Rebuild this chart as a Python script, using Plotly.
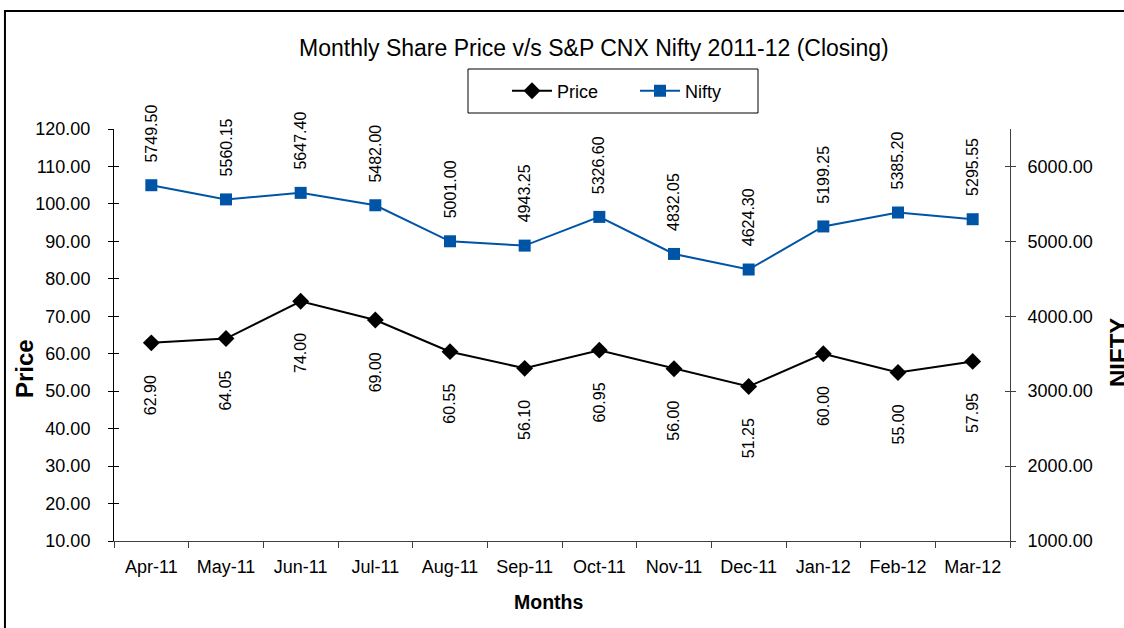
import plotly.graph_objects as go

months = ["Apr-11", "May-11", "Jun-11", "Jul-11", "Aug-11", "Sep-11",
          "Oct-11", "Nov-11", "Dec-11", "Jan-12", "Feb-12", "Mar-12"]
price = [62.90, 64.05, 74.00, 69.00, 60.55, 56.10, 60.95, 56.00, 51.25, 60.00, 55.00, 57.95]
nifty = [5749.50, 5560.15, 5647.40, 5482.00, 5001.00, 4943.25, 5326.60, 4832.05,
         4624.30, 5199.25, 5385.20, 5295.55]
price_ticks = list(range(10, 121, 10))
nifty_ticks = list(range(1000, 6001, 1000))

FONT = "Arial, Liberation Sans, sans-serif"
BLUE = "#0054A6"

fig = go.Figure()
fig.add_trace(go.Scatter(
    x=months, y=price, name="Price", mode="lines+markers",
    line=dict(color="black", width=2),
    marker=dict(symbol="diamond", size=13, color="black"),
    yaxis="y"))
fig.add_trace(go.Scatter(
    x=months, y=nifty, name="Nifty", mode="lines+markers",
    line=dict(color=BLUE, width=2),
    marker=dict(symbol="square", size=12, color=BLUE),
    yaxis="y2"))
# invisible helper traces so the inner tick axes get drawn
fig.add_trace(go.Scatter(x=[months[0]], y=[price_ticks[0]], yaxis="y3", mode="markers",
                         marker=dict(opacity=0), showlegend=False, hoverinfo="skip"))
fig.add_trace(go.Scatter(x=[months[0]], y=[nifty_ticks[0]], yaxis="y4", mode="markers",
                         marker=dict(opacity=0), showlegend=False, hoverinfo="skip"))

annotations = []
for m, v in zip(months, nifty):
    annotations.append(dict(x=m, y=v, xref="x", yref="y2", text=f"{v:.2f}",
                            textangle=-90, showarrow=False, yanchor="bottom",
                            yshift=21, font=dict(size=16, color="black", family=FONT)))
for m, v in zip(months, price):
    annotations.append(dict(x=m, y=v, xref="x", yref="y", text=f"{v:.2f}",
                            textangle=-90, showarrow=False, yanchor="top",
                            yshift=-30, font=dict(size=16, color="black", family=FONT)))

# title and axis titles
annotations.append(dict(x=0.5357, y=1.1966, xref="paper", yref="paper",
                        text="Monthly Share Price v/s S&P CNX Nifty 2011-12 (Closing)",
                        showarrow=False, xanchor="center", yanchor="middle",
                        font=dict(size=23, color="black", family=FONT)))
annotations.append(dict(x=-0.0993, y=0.4175, xref="paper", yref="paper",
                        text="<b>Price</b>", textangle=-90, showarrow=False,
                        xanchor="center", yanchor="middle",
                        font=dict(size=24, color="black", family=FONT)))
annotations.append(dict(x=1.1205, y=0.4587, xref="paper", yref="paper",
                        text="<b>NIFTY</b>", textangle=-90, showarrow=False,
                        xanchor="center", yanchor="middle",
                        font=dict(size=24, color="black", family=FONT)))
annotations.append(dict(x=0.485, y=-0.148, xref="paper", yref="paper",
                        text="<b>Months</b>", showarrow=False,
                        xanchor="center", yanchor="middle",
                        font=dict(size=19.5, color="black", family=FONT)))

fig.update_layout(
    width=1124, height=628,
    margin=dict(l=114, r=114, t=129, b=87),
    paper_bgcolor="white", plot_bgcolor="white",
    font=dict(family=FONT, color="black"),
    showlegend=True,
    legend=dict(orientation="h", x=(507 - 114) / 896, y=(541 - 91) / 412,
                xanchor="left", yanchor="middle",
                borderwidth=0, bgcolor="rgba(0,0,0,0)",
                font=dict(size=18, color="black", family=FONT),
                itemwidth=40, entrywidth=73, traceorder="normal"),
    xaxis=dict(type="category", range=[-0.5, 11.5], tickson="boundaries",
               ticks="outside", ticklen=6, tickcolor="#404040", showline=True,
               linecolor="#404040", linewidth=1, showgrid=False, zeroline=False,
               ticklabelstandoff=9,
               tickfont=dict(size=18, color="black", family=FONT)),
    yaxis=dict(range=[10, 120], tickvals=price_ticks, tickformat=".2f",
               ticks="outside", ticklen=5, tickcolor="black", showline=True,
               linecolor="black", linewidth=1, showgrid=False, zeroline=False,
               ticklabelstandoff=14,
               tickfont=dict(size=18, color="black", family=FONT)),
    yaxis2=dict(range=[1000, 6500], tickvals=nifty_ticks, tickformat=".2f",
                overlaying="y", side="right",
                ticks="outside", ticklen=5, tickcolor="#404040", showline=True,
                linecolor="#404040", linewidth=1, showgrid=False, zeroline=False,
                ticklabelstandoff=8,
                tickfont=dict(size=18, color="black", family=FONT)),
    yaxis3=dict(range=[10, 120], tickvals=price_ticks, overlaying="y", side="left",
                ticks="inside", ticklen=5, tickcolor="black", showline=False,
                showticklabels=False, showgrid=False, zeroline=False),
    yaxis4=dict(range=[1000, 6500], tickvals=nifty_ticks, overlaying="y", side="right",
                ticks="inside", ticklen=5, tickcolor="#404040", showline=False,
                showticklabels=False, showgrid=False, zeroline=False),
    annotations=annotations,
    shapes=[
        dict(type="rect", xref="paper", yref="paper",
             x0=-0.1217, x1=1.3, y0=-0.35, y1=1.2864,
             line=dict(color="black", width=2), fillcolor="rgba(0,0,0,0)",
             layer="below"),
        dict(type="rect", xref="paper", yref="paper",
             x0=(468 - 114) / 896, x1=(758 - 114) / 896,
             y0=(541 - 113) / 412, y1=(541 - 69) / 412,
             line=dict(color="black", width=1), fillcolor="rgba(0,0,0,0)",
             layer="above"),
    ],
)

fig.write_html("out.html", config={"displayModeBar": False},
               post_script="document.body.style.margin='0';")
